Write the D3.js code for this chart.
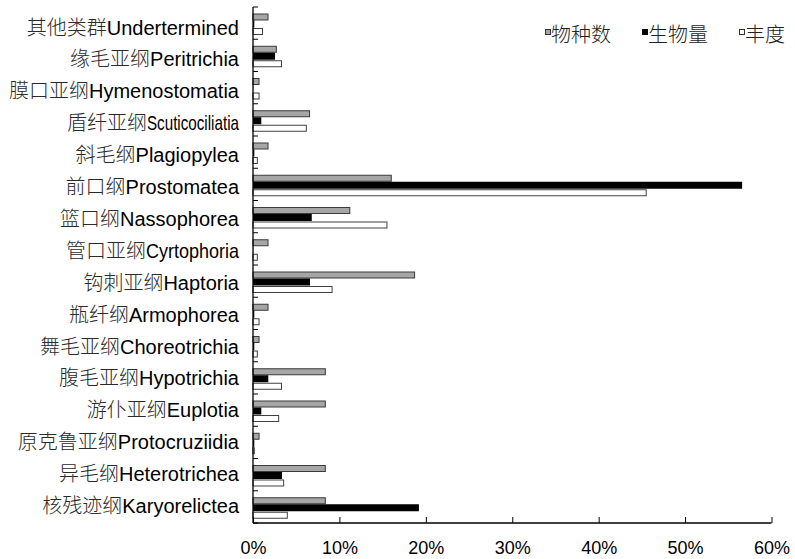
<!DOCTYPE html>
<html>
<head>
<meta charset="utf-8">
<script src="https://cdn.jsdelivr.net/npm/d3@7"></script>
<style>
  html, body { margin: 0; padding: 0; background: #fff; }
  svg { display: block; }
</style>
</head>
<body>
<svg id="chart" width="795" height="559"></svg>
<script>
// Ciliate groups, top to bottom
const categoriesZh = ["其他类群", "缘毛亚纲", "膜口亚纲", "盾纤亚纲", "斜毛纲", "前口纲", "篮口纲", "管口亚纲",
  "钩刺亚纲", "瓶纤纲", "舞毛亚纲", "腹毛亚纲", "游仆亚纲", "原克鲁亚纲", "异毛纲", "核残迹纲"];
const categoriesLatin = ["Undertermined", "Peritrichia", "Hymenostomatia", "Scuticociliatia", "Plagiopylea",
  "Prostomatea", "Nassophorea", "Cyrtophoria", "Haptoria", "Armophorea", "Choreotrichia", "Hypotrichia",
  "Euplotia", "Protocruziidia", "Heterotrichea", "Karyorelictea"];
// Names set in a condensed face (horizontal squeeze factor)
const condensedLatin = { "Scuticociliatia": 0.76, "Cyrtophoria": 0.9 };

// Share of each group (%)
const speciesPct   = [1.74, 2.7, 0.7, 6.55, 1.74, 16.0, 11.2, 1.74, 18.7, 1.74, 0.7, 8.37, 8.37, 0.7, 8.37, 8.37];
const biomassPct   = [0.15, 2.55, 0.02, 0.96, 0.15, 56.6, 6.8, 0.02, 6.6, 0.15, 0.15, 1.77, 0.96, 0.15, 3.36, 19.2];
const abundancePct = [1.1, 3.3, 0.7, 6.17, 0.5, 45.5, 15.5, 0.5, 9.15, 0.7, 0.5, 3.3, 2.97, 0.15, 3.55, 3.97];

const seriesNames = ["物种数", "生物量", "丰度"];
const xTicks = [0, 10, 20, 30, 40, 50, 60];

const cjk = "'Noto Sans CJK SC', 'Noto Sans', sans-serif";
const latin = "'Liberation Sans', Arial, sans-serif";

const svg = d3.select("#chart");

const x = d3.scaleLinear().domain([0, 60]).range([253, 771.5]);
const y = d3.scaleBand().domain(categoriesLatin).range([7, 523]);
const labelY = d3.scalePoint().domain(categoriesLatin).range([34.5, 513]);

const series = [
  { name: seriesNames[0], values: speciesPct,   fill: "#a6a6a6", stroke: "#3a3a3a", sw: 1, dy: 7,    h: 6 },
  { name: seriesNames[1], values: biomassPct,   fill: "#000000", stroke: "none",    sw: 0, dy: 13.5, h: 7 },
  { name: seriesNames[2], values: abundancePct, fill: "#ffffff", stroke: "#404040", sw: 1, dy: 21.5, h: 6 }
];

// Bars
series.forEach(s => {
  svg.append("g").selectAll("rect")
    .data(categoriesLatin.map((c, i) => ({ c, v: s.values[i] })))
    .join("rect")
    .attr("x", x(0))
    .attr("y", d => y(d.c) + s.dy)
    .attr("width", d => Math.max(0, x(d.v) - x(0)))
    .attr("height", s.h)
    .attr("fill", s.fill)
    .attr("stroke", s.stroke)
    .attr("stroke-width", s.sw);
});

// Category axis: line with inward ticks at band boundaries
const yAxis = svg.append("g");
yAxis.append("line")
  .attr("x1", x(0)).attr("x2", x(0))
  .attr("y1", y.range()[0]).attr("y2", y.range()[1])
  .attr("stroke", "#000").attr("stroke-width", 1.3);
const bounds = categoriesLatin.map(c => y(c)).concat([y.range()[1]]);
yAxis.selectAll("line.tick").data(bounds).join("line")
  .attr("class", "tick")
  .attr("x1", x(0)).attr("x2", x(0) + 5)
  .attr("y1", d => d).attr("y2", d => d)
  .attr("stroke", "#000").attr("stroke-width", 1);

// Category labels (Chinese + Latin)
const labelRight = 239;
const labels = svg.append("g");
categoriesLatin.forEach((c, i) => {
  const ly = labelY(c);
  const squeeze = condensedLatin[c];
  if (!squeeze) {
    const t = labels.append("text")
      .attr("x", labelRight).attr("y", ly)
      .attr("text-anchor", "end")
      .attr("font-size", 20)
      .attr("fill", "#000");
    t.append("tspan").attr("font-family", cjk).attr("font-weight", 300).attr("fill", "#2a2a2a").text(categoriesZh[i]);
    t.append("tspan").attr("font-family", latin).text(c);
  } else {
    // condensed Latin part, then the Chinese part placed to its left
    const lt = labels.append("text")
      .attr("transform", `translate(${labelRight},${ly}) scale(${squeeze},1)`)
      .attr("text-anchor", "end")
      .attr("font-family", latin)
      .attr("font-size", 20)
      .attr("fill", "#000")
      .text(c);
    const w = lt.node().getComputedTextLength() * squeeze;
    labels.append("text")
      .attr("x", labelRight - w).attr("y", ly)
      .attr("text-anchor", "end")
      .attr("font-family", cjk)
      .attr("font-weight", 300)
      .attr("font-size", 20)
      .attr("fill", "#2a2a2a")
      .text(categoriesZh[i]);
  }
});

// Value axis along the bottom, ticks pointing up
const xAxis = d3.axisBottom(x)
  .tickValues(xTicks)
  .tickFormat(d => d + "%")
  .tickSize(-6)
  .tickPadding(18);
const gx = svg.append("g")
  .attr("transform", `translate(0,${y.range()[1]})`)
  .call(xAxis);
gx.select(".domain").attr("stroke", "#000").attr("stroke-width", 1.3).attr("d", `M${x(0)},0H${x(60)}`);
gx.selectAll(".tick line").attr("stroke", "#000").attr("stroke-width", 1);
gx.selectAll(".tick text")
  .attr("font-family", latin)
  .attr("font-size", 18)
  .attr("fill", "#000")
  .attr("dy", "0.71em");

// Legend
const legendX = [545, 642, 739];
const legend = svg.append("g");
series.forEach((s, i) => {
  legend.append("rect")
    .attr("x", legendX[i] + 0.5).attr("y", 29.5)
    .attr("width", 5).attr("height", 5)
    .attr("fill", s.fill)
    .attr("stroke", i === 1 ? "#000" : "#333")
    .attr("stroke-width", 1);
  legend.append("text")
    .attr("x", legendX[i] + 6)
    .attr("y", 42)
    .attr("font-family", cjk)
    .attr("font-weight", 300)
    .attr("font-size", 20)
    .attr("fill", "#222")
    .text(s.name);
});
</script>
</body>
</html>
